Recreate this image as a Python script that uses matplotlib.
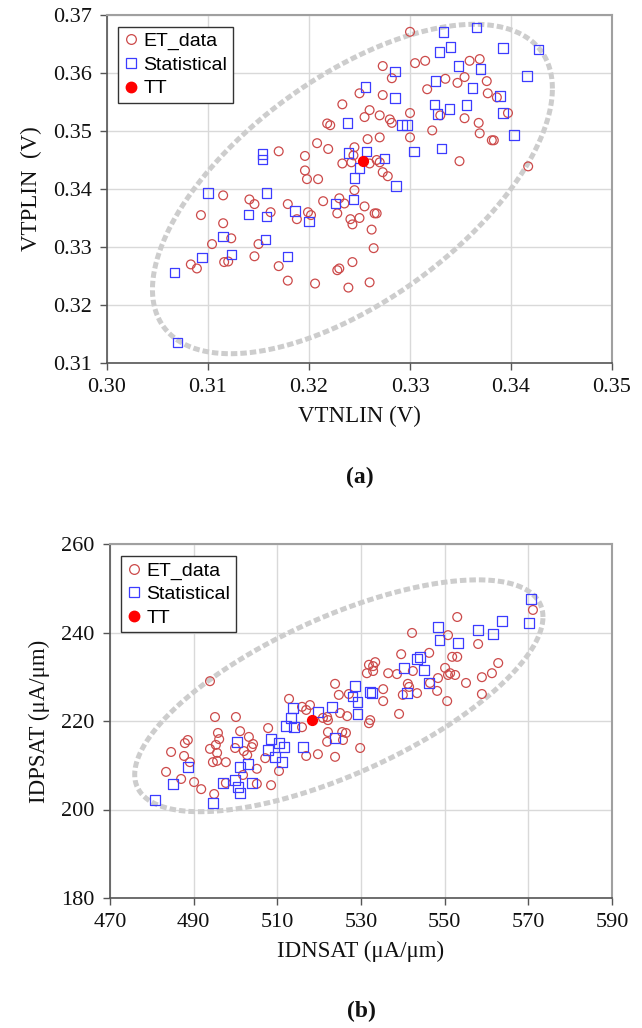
import numpy as np
import matplotlib
matplotlib.use("Agg")
import matplotlib.pyplot as plt
from matplotlib.lines import Line2D

# ---------------- data : panel (a) ----------------
a_et_x = [0.3170,0.3196,0.3196,0.3198,0.3209,0.3219,0.3208,0.3218,0.3221,0.3233,0.3233,0.3242,0.3245,0.3244,0.3245,
          0.3300,0.3273,0.3282,0.3305,0.3315,0.3359,0.3369,0.3335,0.3347,0.3354,0.3376,0.3377,0.3386,0.3317,0.3273,
          0.3260,0.3255,0.3270,0.3280,0.3282,0.3300,0.3330,0.3354,0.3368,0.3397,0.3322,0.3300,0.3270,0.3258,0.3369,
          0.3381,0.3383,0.3349,0.3260,0.3270,0.3267,0.3273,0.3278,0.3417,0.3250,
          0.3115,0.3141,0.3146,0.3093,0.3115,0.3162,0.3179,0.3188,0.3199,0.3202,0.3214,0.3228,0.3230,0.3235,0.3241,
          0.3250,0.3243,0.3123,0.3104,0.3150,0.3146,0.3116,0.3120,0.3083,0.3089,0.3170,0.3179,0.3206,0.3228,0.3230,
          0.3243,0.3239,0.3255,0.3265,0.3267,0.3262,0.3264,0.3260]
a_et_y = [0.3465,0.3457,0.3432,0.3417,0.3417,0.3469,0.3479,0.3513,0.3510,0.3546,0.3444,0.3446,0.3472,0.3458,0.3398,
          0.3671,0.3612,0.3591,0.3617,0.3621,0.3621,0.3624,0.3590,0.3583,0.3593,0.3586,0.3565,0.3558,0.3572,0.3562,
          0.3536,0.3524,0.3527,0.3520,0.3514,0.3531,0.3527,0.3522,0.3514,0.3531,0.3501,0.3489,0.3489,0.3486,0.3496,
          0.3484,0.3484,0.3448,0.3444,0.3446,0.3450,0.3429,0.3422,0.3439,0.3565,
          0.3389,0.3382,0.3374,0.3355,0.3341,0.3360,0.3374,0.3348,0.3360,0.3355,0.3379,0.3358,0.3384,0.3375,0.3348,
          0.3350,0.3339,0.3315,0.3305,0.3305,0.3284,0.3274,0.3275,0.3270,0.3263,0.3267,0.3242,0.3237,0.3260,0.3263,
          0.3274,0.3230,0.3370,0.3358,0.3358,0.3330,0.3298,0.3239]
a_st_x = [0.3154,0.3154,0.3238,0.3239,0.3250,0.3245,0.3333,0.3366,0.3340,0.3329,0.3392,0.3427,0.3285,0.3348,0.3370,
          0.3416,0.3256,0.3325,0.3362,0.3285,0.3389,0.3324,0.3327,0.3339,0.3356,0.3392,0.3292,0.3297,0.3403,0.3304,
          0.3331,0.3257,0.3275,0.3286,0.3100,0.3158,0.3140,0.3158,0.3186,0.3200,0.3226,0.3244,0.3115,0.3157,0.3123,
          0.3094,0.3179,0.3067,0.3070]
a_st_y = [0.3460,0.3451,0.3514,0.3462,0.3436,0.3419,0.3671,0.3678,0.3645,0.3636,0.3643,0.3641,0.3603,0.3612,0.3607,
          0.3595,0.3576,0.3586,0.3574,0.3557,0.3560,0.3546,0.3529,0.3538,0.3545,0.3531,0.3510,0.3510,0.3493,0.3465,
          0.3470,0.3465,0.3453,0.3405,0.3393,0.3393,0.3356,0.3353,0.3362,0.3344,0.3375,0.3382,0.3318,0.3313,0.3287,
          0.3282,0.3284,0.3256,0.3135]
a_tt = (0.3253, 0.3448)
# guide ellipse (centre, half extents, correlation)
a_ell = dict(cx=0.3243, cy=0.3400, hx=0.0198, hy=0.0284, rho=0.61)
a_xticks = [0.30, 0.31, 0.32, 0.33, 0.34, 0.35]
a_yticks = [0.31, 0.32, 0.33, 0.34, 0.35, 0.36, 0.37]

# ---------------- data : panel (b) ----------------
b_et_x = [493.9,512.8,523.8,524.7,527.1,531.4,531.9,515.9,517.8,516.9,525.0,526.7,495.1,500.1,521.9,
          571.1,553.0,542.2,550.8,558.0,539.6,546.3,551.8,553.0,562.8,533.4,532.9,532.9,536.5,538.6,
          542.4,550.1,551.3,552.5,548.4,550.8,558.9,561.3,555.1,541.2,541.5,535.3,546.5,548.2,543.4,
          540.0,535.3,550.6,558.9,539.1,532.2,
          520.9,522.1,515.9,488.6,487.9,484.6,487.7,489.1,483.4,487.0,490.1,491.8,494.9,495.8,496.1,
          495.3,493.9,495.6,494.6,495.6,497.7,501.1,503.2,499.9,502.0,503.9,504.2,502.8,505.1,501.8,
          497.7,505.1,508.5,507.8,507.1,510.4,516.9,519.7,521.9,522.1,525.5,526.4,525.7,523.8,529.8,531.9]
b_et_y = [229.0,225.0,228.4,225.9,226.1,230.8,232.7,223.2,223.6,222.5,221.8,221.1,220.9,220.9,220.9,
          245.1,243.5,239.9,239.4,237.4,235.1,235.4,234.5,234.5,233.1,233.3,232.4,231.3,230.8,230.6,
          231.3,232.0,230.8,230.4,229.7,230.4,229.9,230.8,228.6,228.4,227.7,227.2,228.6,226.8,226.3,
          225.9,224.5,224.5,226.1,221.6,220.2,
          220.7,220.2,218.6,215.7,215.0,213.0,212.1,210.7,208.5,206.9,206.2,204.6,203.5,217.3,215.9,
          214.6,213.7,212.8,210.7,211.0,210.7,217.7,216.4,213.9,213.2,214.1,214.8,212.3,209.2,207.8,
          206.0,205.8,205.5,218.4,211.6,208.7,212.1,212.5,215.3,217.5,217.5,217.3,215.7,211.9,213.9,219.5]
b_st_x = [528.6,527.9,529.1,513.7,523.1,519.7,529.1,532.2,570.6,563.7,570.2,548.4,558.0,561.6,548.7,
          553.2,544.1,543.4,540.3,545.1,546.3,541.0,532.6,513.3,512.1,514.0,523.8,500.4,508.5,510.4,
          511.6,507.8,516.1,509.4,511.1,501.1,503.0,488.6,485.1,497.0,499.9,500.6,501.1,503.9,480.8,494.6]
b_st_y = [227.9,225.6,224.3,222.9,223.2,222.0,221.6,226.6,247.6,242.6,242.1,241.2,240.6,239.7,238.3,
          237.6,234.5,234.0,232.0,231.5,228.6,226.3,226.3,220.7,218.9,218.6,216.2,215.3,215.9,215.0,
          214.1,213.4,214.1,211.9,210.7,209.6,210.3,209.6,205.8,206.0,206.7,205.1,203.7,206.0,202.1,201.5]
b_tt = (518.3, 220.2)
b_ell = dict(cx=524.7, cy=225.7, hx=48.8, hy=26.2, rho=0.68)
b_xticks = [470, 490, 510, 530, 550, 570, 590]
b_yticks = [180, 200, 220, 240, 260]

# ---------------- style ----------------
ET_COL = "#cc4a4a"
ST_COL = "#3c3cff"
TT_COL = "#ff0000"
ELL_COL = "#cdcdcd"
SERIF = ["Liberation Serif", "DejaVu Serif"]
SANS = ["Liberation Sans", "DejaVu Sans"]

fig = plt.figure(figsize=(6.42, 10.28), dpi=100)
W, H = 642.0, 1028.0
ax1 = fig.add_axes([107 / W, 1 - 363 / H, 505 / W, 348 / H])
ax2 = fig.add_axes([110 / W, 1 - 898 / H, 502 / W, 354 / H])


def ellipse(ax, p):
    t = np.linspace(0, 2 * np.pi, 500)
    x = p["cx"] + p["hx"] * np.cos(t)
    y = p["cy"] + p["hy"] * (p["rho"] * np.cos(t) + np.sqrt(1 - p["rho"] ** 2) * np.sin(t))
    ax.plot(x, y, color=ELL_COL, lw=3.6, dashes=(1.3, 0.6), solid_capstyle="butt",
            dash_capstyle="butt", zorder=2)


def panel(ax, etx, ety, stx, sty, tt, ell, xt, yt, xfmt, yfmt, xlabel, ylabel, tag):
    ax.set_xlim(xt[0], xt[-1])
    ax.set_ylim(yt[0], yt[-1])
    ax.grid(True, color="#d9d9d9", lw=1.0, zorder=0)
    ax.set_axisbelow(True)
    ellipse(ax, ell)
    ax.scatter(etx, ety, s=40, facecolors="none", edgecolors=ET_COL, linewidths=0.9, zorder=3)
    ax.scatter(stx, sty, s=46, marker="s", facecolors="none", edgecolors=ST_COL, linewidths=0.9, zorder=4)
    ax.scatter([tt[0]], [tt[1]], s=50, color=TT_COL, zorder=5)
    ax.set_xticks(xt)
    ax.set_yticks(yt)
    ax.set_xticklabels([xfmt.format(v) for v in xt], fontfamily=SERIF, fontsize=16)
    ax.set_yticklabels([yfmt.format(v) for v in yt], fontfamily=SERIF, fontsize=16)
    ax.tick_params(direction="out", length=5, width=1, colors="#555555", labelcolor="#111111", pad=6)
    for s in ("left", "bottom"):
        ax.spines[s].set_color("#555555")
        ax.spines[s].set_linewidth(1.2)
    for s in ("top", "right"):
        ax.spines[s].set_color("#a0a0a0")
        ax.spines[s].set_linewidth(1.5)
    ax.set_xlabel(xlabel, fontfamily=SERIF, fontsize=16.5, color="#111111", labelpad=6)
    ax.set_ylabel(ylabel, fontfamily=SERIF, fontsize=16.5, color="#111111", labelpad=8)
    handles = [
        Line2D([], [], ls="none", marker="o", ms=7, mfc="none", mec=ET_COL, mew=0.9),
        Line2D([], [], ls="none", marker="s", ms=6.5, mfc="none", mec=ST_COL, mew=0.9),
        Line2D([], [], ls="none", marker="o", ms=7.5, mfc=TT_COL, mec=TT_COL),
    ]
    leg = ax.legend(handles, ["ET_data", "Statistical", "TT"], loc="upper left",
                    bbox_to_anchor=(0.022, 0.966), prop={"family": SANS, "size": 14},
                    fancybox=False, framealpha=1, edgecolor="#333333", borderpad=0.3,
                    labelspacing=0.3, handlelength=0.7, handletextpad=0.3, borderaxespad=0.0)
    leg.get_frame().set_linewidth(1.0)
    leg.set_zorder(10)
    ax.text(0.5, tag[1], tag[0], transform=ax.transAxes, ha="center", va="center",
            fontfamily=SERIF, fontsize=17, fontweight="bold", color="#111111")


panel(ax1, a_et_x, a_et_y, a_st_x, a_st_y, a_tt, a_ell, a_xticks, a_yticks,
      "{:.2f}", "{:.2f}", "VTNLIN (V)", "VTPLIN  (V)", ("(a)", -0.33))
panel(ax2, b_et_x, b_et_y, b_st_x, b_st_y, b_tt, b_ell, b_xticks, b_yticks,
      "{:d}", "{:d}", "IDNSAT (\u03bcA/\u03bcm)", "IDPSAT (\u03bcA/\u03bcm)", ("(b)", -0.32))

fig.savefig("out.png", dpi=100, facecolor="white")
